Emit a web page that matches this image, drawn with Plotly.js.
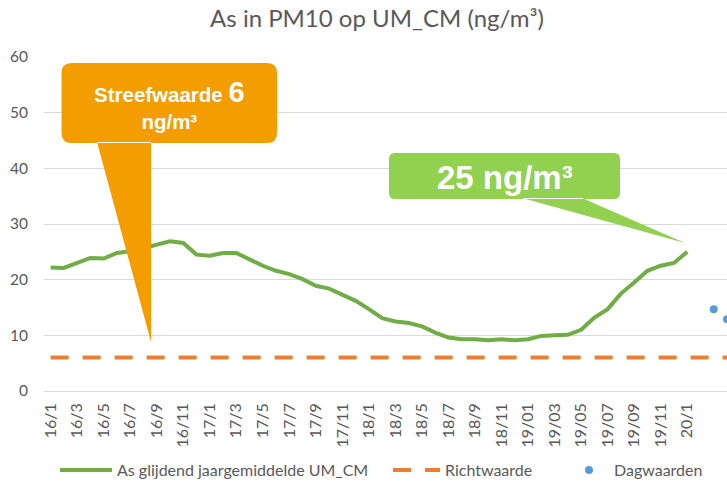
<!DOCTYPE html>
<html>
<head>
<meta charset="utf-8">
<script src="https://cdn.plot.ly/plotly-3.0.1.min.js"></script>
<style>html,body{margin:0;padding:0;background:#fff;}#chart{width:727px;height:482px;}</style>
</head>
<body>
<div id="chart"></div>
<script>
// Categories (monthly)
const months = [
  '16/1','16/2','16/3','16/4','16/5','16/6','16/7','16/8','16/9','16/10','16/11','16/12',
  '17/1','17/2','17/3','17/4','17/5','17/6','17/7','17/8','17/9','17/10','17/11','17/12',
  '18/1','18/2','18/3','18/4','18/5','18/6','18/7','18/8','18/9','18/10','18/11','18/12',
  '19/01','19/02','19/03','19/04','19/05','19/06','19/07','19/08','19/09','19/10','19/11','19/12',
  '20/1','20/2','20/3','20/4'
];
const tickLabels = ['16/1','16/3','16/5','16/7','16/9','16/11','17/1','17/3','17/5','17/7','17/9','17/11',
  '18/1','18/3','18/5','18/7','18/9','18/11','19/01','19/03','19/05','19/07','19/09','19/11','20/1'];

// Series: sliding annual mean (As glijdend jaargemiddelde UM_CM)
const avgMonths = months.slice(0, 49);
const avgValues = [
  22.2,22.1,23.0,23.9,23.8,24.8,25.1,25.6,26.3,26.9,26.6,24.5,
  24.3,24.8,24.8,23.7,22.5,21.6,21.0,20.1,18.9,18.4,17.2,16.2,
  14.7,13.1,12.5,12.2,11.6,10.5,9.6,9.3,9.3,9.1,9.3,9.1,
  9.3,9.9,10.0,10.1,11.0,13.2,14.7,17.5,19.5,21.6,22.5,23.0,
  25.0
];
// Richtwaarde
const richtMonths = ['16/1','20/4'];
const richtValues = [6, 6];
// Dagwaarden
const dagMonths = ['20/3','20/4'];
const dagValues = [14.7, 12.9];

const W = 727, H = 482, L = 44, R = 727, T = 57, B = 391;
const px = x => (x - L) / (R - L);
const py = y => (B - y) / (B - T);

function roundRect(x0, y0, x1, y1, r) {
  return `M${px(x0+r)},${py(y0)} L${px(x1-r)},${py(y0)} Q${px(x1)},${py(y0)} ${px(x1)},${py(y0+r)} ` +
         `L${px(x1)},${py(y1-r)} Q${px(x1)},${py(y1)} ${px(x1-r)},${py(y1)} L${px(x0+r)},${py(y1)} ` +
         `Q${px(x0)},${py(y1)} ${px(x0)},${py(y1-r)} L${px(x0)},${py(y0+r)} Q${px(x0)},${py(y0)} ${px(x0+r)},${py(y0)} Z`;
}
function tri(a, b, c) {
  return `M${px(a[0])},${py(a[1])} L${px(b[0])},${py(b[1])} L${px(c[0])},${py(c[1])} Z`;
}

const ORANGE = '#F49D00', LGREEN = '#92D050';
const legFont = {size: 16, color: '#595959', family: 'Lato, sans-serif'};

const traces = [
  {x: avgMonths, y: avgValues, type: 'scatter', mode: 'lines', name: 'As glijdend jaargemiddelde UM_CM',
   line: {color: '#70AD47', width: 4}, legend: 'legend'},
  {x: richtMonths, y: richtValues, type: 'scatter', mode: 'lines', name: 'Richtwaarde',
   line: {color: '#ED7D31', width: 4, dash: '18px,14px'}, legend: 'legend2'},
  {x: dagMonths, y: dagValues, type: 'scatter', mode: 'markers', name: 'Dagwaarden',
   marker: {color: '#5B9BD5', size: 8}, legend: 'legend3'}
];

function leg(x, iw) {
  return {orientation: 'h', xref: 'container', yref: 'container', x: x / W, y: 1 - 470 / H,
          xanchor: 'left', yanchor: 'middle', font: legFont, bgcolor: 'rgba(0,0,0,0)', itemwidth: iw};
}

const layout = {
  width: W, height: H,
  margin: {l: L, r: W - R, t: T, b: H - B, pad: 0},
  paper_bgcolor: '#fff', plot_bgcolor: '#fff',
  font: {family: 'Lato, "Open Sans", sans-serif', color: '#595959'},
  title: {text: 'As in PM10 op UM_CM (ng/m³)', font: {size: 24, color: '#595959', family: 'Lato, sans-serif'},
          x: 377 / W, xref: 'container', xanchor: 'center', y: 1 - 19 / H, yref: 'container', yanchor: 'middle'},
  xaxis: {type: 'category', categoryorder: 'array', categoryarray: months, range: [-0.5, 51.0],
          tickmode: 'array', tickvals: tickLabels, ticktext: tickLabels, tickangle: -90,
          tickfont: {size: 16, color: '#595959'}, showgrid: false, showline: false, zeroline: false,
          ticks: '', ticklabelstandoff: 8, fixedrange: true},
  yaxis: {range: [0, 60], tickvals: [0,10,20,30,40,50,60], showgrid: true, gridcolor: '#D9D9D9', gridwidth: 1,
          zeroline: true, zerolinecolor: '#D9D9D9', zerolinewidth: 1, showline: false, ticks: '',
          tickfont: {size: 15.5, color: '#595959'}, ticklabelstandoff: 15, fixedrange: true},
  legend: leg(55, 52),
  legend2: leg(388, 47),
  legend3: leg(564, 40),
  showlegend: true,
  hovermode: false,
  shapes: [
    {type: 'path', xref: 'paper', yref: 'paper', path: roundRect(61.5, 63, 277, 143, 10) + ' ' + tri([97, 142], [151, 342], [151, 142]),
     fillcolor: ORANGE, line: {width: 0}, layer: 'above'},
    {type: 'path', xref: 'paper', yref: 'paper', path: roundRect(389, 153, 620, 199, 6) + ' ' + tri([522, 198], [685, 243], [582, 198]),
     fillcolor: LGREEN, line: {width: 0}, layer: 'above'}
  ],
  annotations: [
    {xref: 'paper', yref: 'paper', x: px(169), y: py(104), xanchor: 'center', yanchor: 'middle', showarrow: false,
     text: '<b>Streefwaarde <span style="font-size:29px">6</span><br>ng/m³</b>',
     font: {family: '"Liberation Sans", Arial, sans-serif', size: 20.5, color: '#ffffff'}},
    {xref: 'paper', yref: 'paper', x: px(505), y: py(177), xanchor: 'center', yanchor: 'middle', showarrow: false,
     text: '<b>25 ng/m³</b>',
     font: {family: '"Liberation Sans", Arial, sans-serif', size: 33, color: '#ffffff'}}
  ]
};

Plotly.newPlot('chart', traces, layout, {displayModeBar: false, staticPlot: true});
</script>
</body>
</html>
